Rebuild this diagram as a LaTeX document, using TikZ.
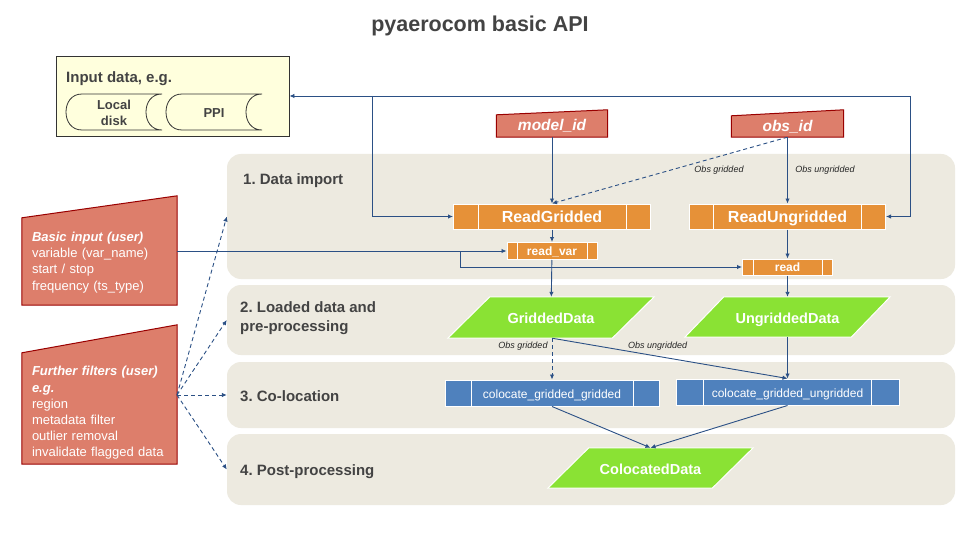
\documentclass[tikz,border=0pt]{standalone}
\usepackage{fontspec}
\setmainfont{Liberation Sans}
\usetikzlibrary{arrows.meta,calc}
\definecolor{bandc}{HTML}{EDEAE0}
\definecolor{salmon}{HTML}{DD7E6B}
\definecolor{darkred}{HTML}{990000}
\definecolor{orng}{HTML}{E69138}
\definecolor{grn}{HTML}{8AE234}
\definecolor{blu}{HTML}{4F81BD}
\definecolor{ln}{HTML}{2B5085}
\definecolor{ttl}{HTML}{434343}
\definecolor{inyellow}{HTML}{FFFFDD}
\definecolor{edgegray}{HTML}{333333}
\pgfdeclarelayer{bands}
\pgfdeclarelayer{shapes}
\pgfsetlayers{bands,shapes,main}
\frenchspacing
\tikzset{
  conn/.style={draw=ln, line width=0.9pt, -{Latex[length=5pt,width=4.5pt]}},
  dconn/.style={conn, dash pattern=on 4pt off 3pt},
  bandbox/.style={rectangle, rounded corners=14pt, fill=bandc, inner sep=0pt},
  bandlbl/.style={anchor=west, text=ttl, font=\bfseries\fontsize{15}{19.5}\selectfont, align=left, inner sep=0pt},
  obox/.style={rectangle, fill=orng, draw=white, line width=1pt, text=white, inner sep=0pt, text height=12.5pt, text depth=0.5pt, font=\bfseries\fontsize{16}{19}\selectfont},
  osmall/.style={obox, text height=9.2pt, text depth=0.5pt, font=\bfseries\fontsize{12}{14}\selectfont},
  bbox/.style={rectangle, fill=blu, draw=white, line width=1pt, text=white, inner sep=0pt, text height=12.4pt, text depth=1pt, font=\fontsize{12}{14}\selectfont},
  divider/.style={draw=white, line width=1pt},
  gnode/.style={rectangle, inner sep=0pt, text=white, text height=13.2pt, text depth=0.5pt, font=\bfseries\fontsize{14.5}{17}\selectfont, minimum width=205pt, minimum height=40pt},
  gshape/.style={fill=grn, draw=white, line width=1pt},
  mnode/.style={rectangle, inner sep=0pt, text=white, text height=11.2pt, text depth=1.5pt, font=\bfseries\itshape\fontsize{15.5}{18}\selectfont},
  mshape/.style={fill=salmon, draw=darkred, line width=1pt},
  usertxt/.style={rectangle, inner sep=0pt, text=white, align=left, text width=135pt, font=\fontsize{13}{16.2}\selectfont},
  elbl/.style={inner sep=0pt, text=black!85, font=\itshape\fontsize{9}{11}\selectfont},
  store/.style={fill=inyellow, draw=edgegray, line width=0.8pt},
  storetxt/.style={inner sep=0pt, text=ttl, align=center, font=\bfseries\fontsize{13}{16}\selectfont}
}
\begin{document}
\begin{tikzpicture}[x=1pt,y=-1pt]
\useasboundingbox (0,0) rectangle (960,540);

% title
\node[text=ttl, font=\bfseries\fontsize{21.5}{26}\selectfont] (title) at (480,26) {pyaerocom basic API};

% bands
\begin{pgfonlayer}{bands}
\fill[white] (0,0) rectangle (960,540);
\node[bandbox, minimum width=728pt, minimum height=125pt] (band1) at (591,216.5) {};
\node[bandbox, minimum width=728pt, minimum height=70pt] (band2) at (591,320) {};
\node[bandbox, minimum width=728pt, minimum height=66pt] (band3) at (591,395) {};
\node[bandbox, minimum width=728pt, minimum height=71pt] (band4) at (591,469.5) {};
\end{pgfonlayer}
\node[bandlbl] (l1) at (243,181) {1. Data import};
\node[bandlbl] (l2) at (240,318) {2. Loaded data and\\pre-processing};
\node[bandlbl] (l3) at (240,396.5) {3. Co-location};
\node[bandlbl] (l4) at (240,471.5) {4. Post-processing};

% input data box
\node[rectangle, fill=inyellow, draw=edgegray, line width=0.9pt, minimum width=233pt, minimum height=80pt, inner sep=0pt] (input) at (172.5,96) {};
\node[anchor=west, inner sep=0pt, text=ttl, font=\bfseries\fontsize{15}{18}\selectfont] (inputlbl) at (66,79) {Input data, e.g.};
\draw[store] (82,130) .. controls (71,130) and (66,121) .. (66,112) .. controls (66,103) and (71,94) .. (82,94) -- (162,94) .. controls (151,94) and (146,103) .. (146,112) .. controls (146,121) and (151,130) .. (162,130) -- cycle;
\begin{scope}[xshift=100pt]
\draw[store] (82,130) .. controls (71,130) and (66,121) .. (66,112) .. controls (66,103) and (71,94) .. (82,94) -- (162,94) .. controls (151,94) and (146,103) .. (146,112) .. controls (146,121) and (151,130) .. (162,130) -- cycle;
\end{scope}
\node[storetxt] (local) at (114,112.5) {Local\\disk};
\node[storetxt] (ppi) at (214,113) {PPI};

% user inputs
\node[rectangle, inner sep=0pt, minimum width=155pt, minimum height=87pt] (basic) at (99.5,261.5) {};
\node[rectangle, inner sep=0pt, minimum width=155pt, minimum height=111pt] (filt) at (99.5,408.5) {};
\begin{pgfonlayer}{shapes}
\draw[mshape] (basic.south west) -- (basic.north west) -- ($(basic.north east)+(0,-22)$) -- (basic.south east) -- cycle;
\draw[mshape] (filt.south west) -- (filt.north west) -- ($(filt.north east)+(0,-28)$) -- (filt.south east) -- cycle;
\end{pgfonlayer}
\node[usertxt] (basictxt) at (99.5,262.5) {\textbf{\textit{Basic input (user)}}\\variable (var\_name)\\start / stop\\frequency (ts\_type)};
\node[usertxt] (filttxt) at (99.5,413) {\textbf{\textit{Further filters (user)}}\\\textbf{\textit{e.g.}}\\region\\metadata filter\\outlier removal\\invalidate flagged data};

% id inputs
\node[mnode, minimum width=111pt, minimum height=22pt] (MI) at (552,126) {model\_id};
\node[mnode, minimum width=112pt, minimum height=21pt] (OI) at (787.5,126.5) {obs\_id};
\begin{pgfonlayer}{shapes}
\draw[mshape] (MI.south west) -- (MI.north west) -- ($(MI.north east)+(0,-5)$) -- (MI.south east) -- cycle;
\draw[mshape] (OI.south west) -- (OI.north west) -- ($(OI.north east)+(0,-6)$) -- (OI.south east) -- cycle;
\end{pgfonlayer}

% reader classes
\node[obox, minimum width=197pt, minimum height=25pt] (RG) at (552,216.5) {ReadGridded};
\node[obox, minimum width=196pt, minimum height=25pt] (RU) at (787.5,216.5) {ReadUngridded};
\draw[divider] ($(RG.north west)+(25,0)$) -- ($(RG.south west)+(25,0)$);
\draw[divider] ($(RG.north east)+(-25,0)$) -- ($(RG.south east)+(-25,0)$);
\draw[divider] ($(RU.north west)+(24.5,0)$) -- ($(RU.south west)+(24.5,0)$);
\draw[divider] ($(RU.north east)+(-24.5,0)$) -- ($(RU.south east)+(-24.5,0)$);
\node[osmall, minimum width=90pt, minimum height=17pt] (RV) at (552,251) {read\_var};
\node[osmall, minimum width=90pt, minimum height=16pt] (RD) at (787.5,267) {read};
\draw[divider] ($(RV.north west)+(10.5,0)$) -- ($(RV.south west)+(10.5,0)$);
\draw[divider] ($(RV.north east)+(-10.5,0)$) -- ($(RV.south east)+(-10.5,0)$);
\draw[divider] ($(RD.north west)+(11,0)$) -- ($(RD.south west)+(11,0)$);
\draw[divider] ($(RD.north east)+(-11,0)$) -- ($(RD.south east)+(-11,0)$);

% data objects
\node[gnode, minimum width=206pt, minimum height=41pt] (GD) at (551,317.5) {GriddedData};
\node[gnode] (UD) at (787.5,317) {UngriddedData};
\node[gnode] (CD) at (650.5,468) {ColocatedData};
\begin{pgfonlayer}{shapes}
\draw[gshape] (GD.south west) -- ($(GD.north west)+(42,0)$) -- (GD.north east) -- ($(GD.south east)+(-42,0)$) -- cycle;
\draw[gshape] (UD.south west) -- ($(UD.north west)+(39,0)$) -- (UD.north east) -- ($(UD.south east)+(-39,0)$) -- cycle;
\draw[gshape] (CD.south west) -- ($(CD.north west)+(41,0)$) -- (CD.north east) -- ($(CD.south east)+(-41,0)$) -- cycle;
\end{pgfonlayer}

% colocation
\node[bbox, minimum width=214pt, minimum height=26pt] (CGG) at (552,393) {colocate\_gridded\_gridded};
\node[bbox, minimum width=223pt, minimum height=26pt] (CGU) at (787.5,392) {colocate\_gridded\_ungridded};
\draw[divider] ($(CGG.north west)+(26.5,0)$) -- ($(CGG.south west)+(26.5,0)$);
\draw[divider] ($(CGG.north east)+(-26.5,0)$) -- ($(CGG.south east)+(-26.5,0)$);
\draw[divider] ($(CGU.north west)+(28,0)$) -- ($(CGU.south west)+(28,0)$);
\draw[divider] ($(CGU.north east)+(-28,0)$) -- ($(CGU.south east)+(-28,0)$);

% connectors
\coordinate (J1) at (372,96);
\coordinate (J2) at (910,96);
\draw[conn] (J2) -- (input.east);
\draw[conn] (J1) |- (RG.west);
\draw[conn] (J2) |- (RU.east);

\draw[conn] (MI) -- (RG);
\draw[dconn] (OI.south) -- (RG.north);
\draw[conn] (OI) -- (RU);
\node[elbl] (og1) at (719,170.5) {Obs gridded};
\node[elbl] (ou1) at (825,170.5) {Obs ungridded};

\coordinate (B2) at (460,251);
\draw[conn] (basic.east |- RV.west) -- (RV.west);
\draw[conn] (B2) |- (RD.west);

\draw[conn] (RG) -- (RV);
\draw[conn] (RV) -- (GD);
\draw[conn] (RU) -- (RD);
\draw[conn] (RD) -- (UD);

\draw[dconn] (GD.south -| CGG.north) -- (CGG.north);
\draw[conn] (GD.south -| CGG.north) -- (CGU.north);
\draw[conn] (UD) -- (CGU);
\node[elbl] (og2) at (523,346.5) {Obs gridded};
\node[elbl, anchor=west] (ou2) at (628,346.5) {Obs ungridded};

\draw[conn] (CGG.south) -- (CD.north);
\draw[conn] (CGU.south) -- (CD.north);

\coordinate (F0) at (177,395);
\draw[dconn] (F0) -- (band1.west);
\draw[dconn] (F0) -- (band2.west);
\draw[dconn] (F0) -- (band3.west);
\draw[dconn] (F0) -- (band4.west);
\end{tikzpicture}
\end{document}
